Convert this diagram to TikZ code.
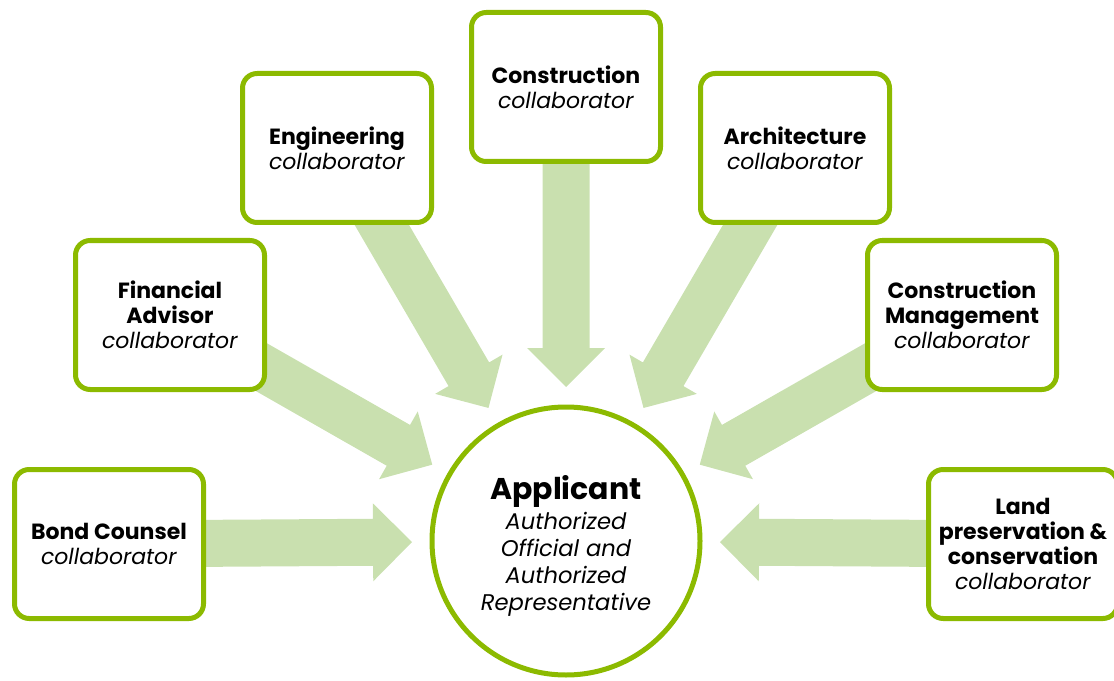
\documentclass[tikz,border=0pt]{standalone}
\usepackage{fontspec}
\setmainfont{Poppins}
\usetikzlibrary{calc,backgrounds}

\definecolor{rim}{HTML}{8CBA00}
\definecolor{spokefill}{HTML}{C9E0AF}

% Block arrow from a collaborator box towards the applicant circle.
% Lengths are measured from the circle centre along the line to the box centre.
\newcommand\spoke[1]{%
  \fill[spokefill]
    ($(app.center)!292.5pt!(#1.center)!17.625pt!90:(#1.center)$) --
    ($(app.center)!144.75pt!(#1.center)!17.625pt!90:(#1.center)$) --
    ($(app.center)!144.75pt!(#1.center)!29.25pt!90:(#1.center)$) --
    ($(app.center)!115.5pt!(#1.center)$) --
    ($(app.center)!144.75pt!(#1.center)!29.25pt!-90:(#1.center)$) --
    ($(app.center)!144.75pt!(#1.center)!17.625pt!-90:(#1.center)$) --
    ($(app.center)!292.5pt!(#1.center)!17.625pt!-90:(#1.center)$) -- cycle;}

\tikzset{
  collab/.style={draw=rim, line width=3.75pt, fill=white, rounded corners=11pt,
    minimum width=141.75pt, minimum height=111.75pt, inner sep=0pt,
    align=center, font=\fontsize{16.5pt}{18.75pt}\selectfont},
  hub/.style={draw=rim, line width=3.75pt, fill=white, circle,
    minimum size=201pt, inner sep=0pt},
  hubtext/.style={inner sep=0pt, align=center,
    font=\fontsize{17pt}{20.25pt}\selectfont},
}

\begin{document}
\begin{tikzpicture}[x=0.75pt, y=-0.75pt]
  \useasboundingbox (0,0) rectangle (1114,681);

  \node[hub] (app) at (566,541) {};
  \node[hubtext] (apptext) at (566,546)
    {{\fontsize{22.5pt}{24pt}\selectfont\bfseries Applicant}\\[2pt]
     \itshape Authorized\\ \itshape Official and\\ \itshape Authorized\\ \itshape Representative};

  \node[collab] (bond) at (109,544) {\textbf{Bond Counsel}\\\textit{collaborator}};
  \node[collab] (fin)  at (170,315) {\textbf{Financial}\\\textbf{Advisor}\\\textit{collaborator}};
  \node[collab] (eng)  at (337,148) {\textbf{Engineering}\\\textit{collaborator}};
  \node[collab] (cons) at (566,87)  {\textbf{Construction}\\\textit{collaborator}};
  \node[collab] (arch) at (795,148) {\textbf{Architecture}\\\textit{collaborator}};
  \node[collab] (mgmt) at (962,315) {\textbf{Construction}\\\textbf{Management}\\\textit{collaborator}};
  \node[collab] (land) at (1023,544) {\textbf{Land}\\\textbf{preservation \&}\\\textbf{conservation}\\\textit{collaborator}};

  \begin{scope}[on background layer]
    \spoke{bond}
    \spoke{fin}
    \spoke{eng}
    \spoke{cons}
    \spoke{arch}
    \spoke{mgmt}
    \spoke{land}
  \end{scope}
\end{tikzpicture}
\end{document}
